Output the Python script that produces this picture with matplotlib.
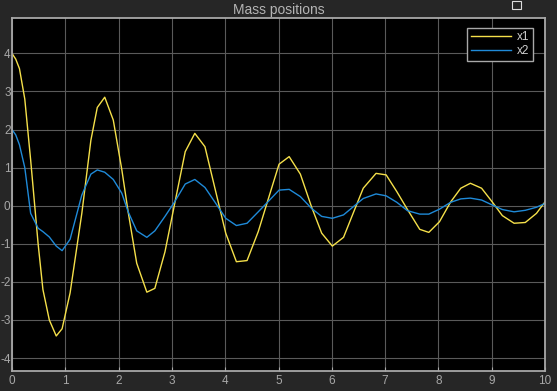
import matplotlib
matplotlib.use("Agg")
import matplotlib.pyplot as plt
from matplotlib.patches import Rectangle

plt.rcParams['font.family'] = ['Liberation Sans', 'DejaVu Sans']
plt.rcParams['axes.unicode_minus'] = False

title = "Mass positions"
series_names = ["x1", "x2"]
t = [0.00, 0.07, 0.14, 0.24, 0.35, 0.49, 0.58, 0.70, 0.83, 0.94,
     1.09, 1.31, 1.48, 1.60, 1.74, 1.90, 2.06, 2.18, 2.34, 2.53,
     2.68, 2.87, 3.05, 3.25, 3.43, 3.62, 3.80, 4.01, 4.21, 4.41,
     4.62, 4.80, 5.01, 5.20, 5.41, 5.62, 5.81, 6.01, 6.22, 6.40,
     6.59, 6.83, 7.02, 7.22, 7.42, 7.65, 7.82, 8.02, 8.23, 8.42,
     8.60, 8.81, 9.01, 9.20, 9.42, 9.63, 9.84, 10.0]
x1 = [4.00, 3.85, 3.60, 2.80, 1.20, -1.00, -2.20, -3.00, -3.42, -3.23,
      -2.29, -0.20, 1.72, 2.58, 2.85, 2.25, 0.95, -0.17, -1.51, -2.27,
      -2.17, -1.21, 0.04, 1.42, 1.90, 1.55, 0.50, -0.72, -1.47, -1.44,
      -0.68, 0.14, 1.09, 1.29, 0.83, -0.03, -0.72, -1.06, -0.83, -0.20,
      0.46, 0.85, 0.81, 0.37, -0.10, -0.62, -0.70, -0.42, 0.10, 0.46,
      0.59, 0.46, 0.10, -0.26, -0.46, -0.44, -0.20, 0.10]
x2 = [2.00, 1.86, 1.60, 1.00, -0.20, -0.59, -0.68, -0.82, -1.06, -1.18,
      -0.88, 0.28, 0.83, 0.94, 0.88, 0.69, 0.33, -0.16, -0.66, -0.83,
      -0.66, -0.28, 0.10, 0.57, 0.69, 0.48, 0.11, -0.33, -0.52, -0.46,
      -0.16, 0.10, 0.41, 0.43, 0.24, -0.07, -0.28, -0.33, -0.24, -0.03,
      0.19, 0.31, 0.26, 0.09, -0.13, -0.22, -0.22, -0.09, 0.09, 0.18,
      0.20, 0.15, 0.02, -0.10, -0.16, -0.12, -0.04, 0.06]
xticks = list(range(0, 11))
yticks = list(range(-4, 5))

fig = plt.figure(figsize=(5.57, 3.91), dpi=100, facecolor="#262626")
ax = fig.add_axes([12/557, 1-371/391, (545-12)/557, (371-18)/391])
ax.set_facecolor("black")

ax.plot(t, x1, color="#f5e04a", lw=1.0, label=series_names[0])
ax.plot(t, x2, color="#1f8ad8", lw=1.0, label=series_names[1])

ax.set_xlim(0, 10)
ax.set_ylim(-4.34, 4.93)
ax.set_xticks(xticks)
ax.set_yticks(yticks)
ax.set_xticklabels([str(v) for v in xticks])
ax.set_yticklabels([str(v) for v in yticks])
ax.grid(True, color="#5a5a5a", lw=0.8)
ax.tick_params(direction="in", length=3, colors="#a8a8a8", labelsize=8.5,
               top=False, right=False, left=False)
ax.tick_params(axis="y", pad=1)
ax.tick_params(axis="x", pad=3)
for sp in ax.spines.values():
    sp.set_color("#a8a8a8")
    sp.set_linewidth(1.3)

ax.set_title(title, color="#b4b4b4", fontsize=10, pad=3)

leg = ax.legend(loc="upper right", frameon=True, fontsize=8.5,
                handlelength=3.4, handletextpad=0.5, borderpad=0.3,
                labelspacing=0.15, borderaxespad=0.0,
                bbox_to_anchor=(0.9775, 0.972), fancybox=False)
leg.get_frame().set_facecolor("black")
leg.get_frame().set_edgecolor("#a8a8a8")
leg.get_frame().set_linewidth(1.0)
leg.get_frame().set_alpha(1.0)
for txt in leg.get_texts():
    txt.set_color("#d0d0d0")

# small undock icon at top right
fig.patches.append(Rectangle((512/557, 1-9/391), 9/557, 8/391,
                             transform=fig.transFigure, facecolor="#262626",
                             edgecolor="#dddddd", lw=0.8))

fig.savefig("out.png", dpi=100, facecolor=fig.get_facecolor())
